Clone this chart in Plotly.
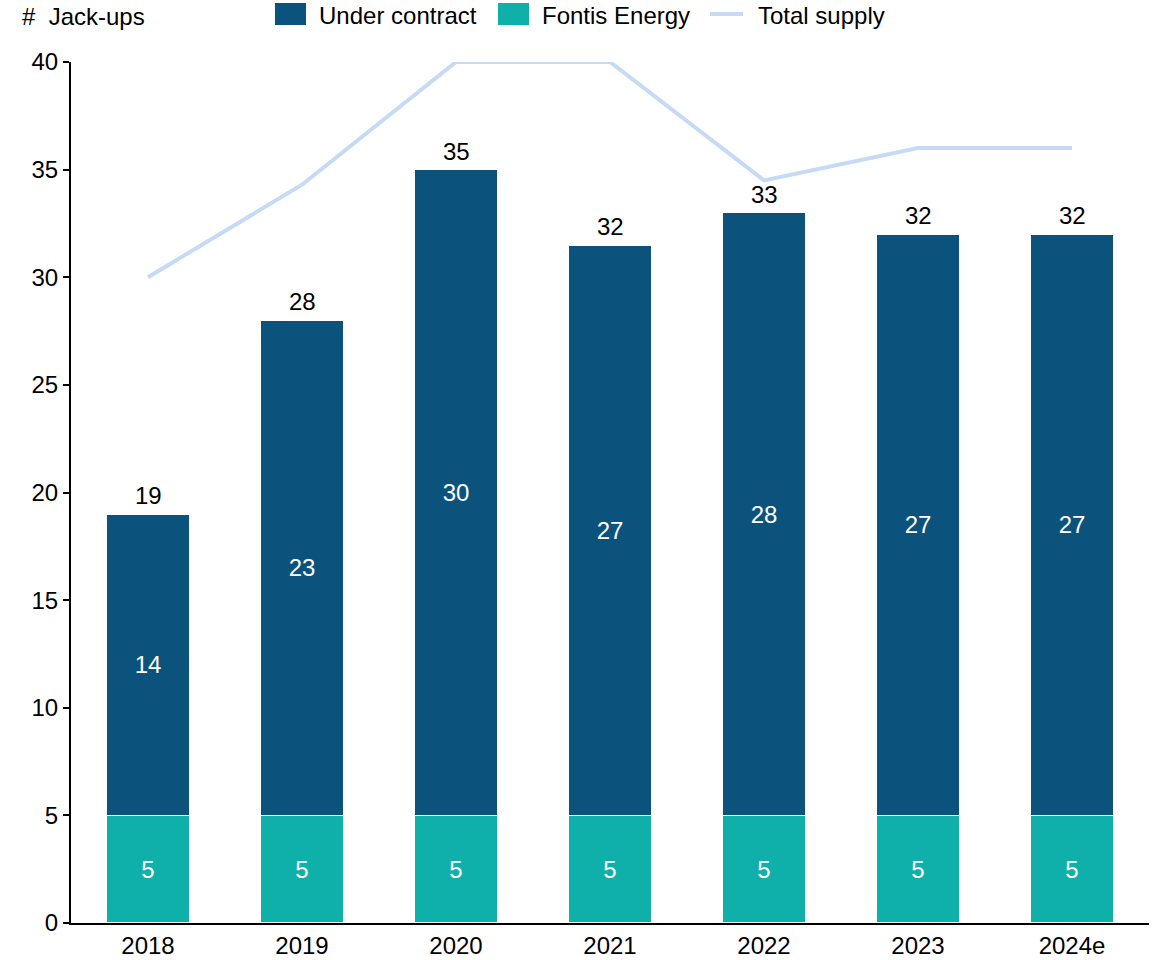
import plotly.graph_objects as go

years = ["2018", "2019", "2020", "2021", "2022", "2023", "2024e"]
fontis = [5, 5, 5, 5, 5, 5, 5]
under_contract = [14, 23, 30, 26.5, 28, 27, 27]
total_supply = [30, 34.3, 40, 40, 34.5, 36, 36]

C_UC = "#0B527C"
C_FE = "#0FB0A9"
C_TS = "#C6DAF6"
FONT = "Liberation Sans, Arial, sans-serif"
FS = 24

W, H = 1168, 960
# plot area in page pixels: x 71..1149, y 62..923
L, R, T, B = 71, 1168 - 1149, 62, 960 - 923
PW, PH = W - L - R, H - T - B


def px(x):
    return (x - L) / PW


def py(y):
    return (H - B - y) / PH


def rnd(v):
    return str(int(v + 0.5))


fig = go.Figure()
fig.add_trace(go.Bar(
    x=years, y=fontis, name="Fontis Energy", marker=dict(color=C_FE, line=dict(color="white", width=1.5)),
    text=[rnd(v) for v in fontis], textposition="inside", insidetextanchor="middle",
    textfont=dict(color="white", size=FS, family=FONT), showlegend=False, textangle=0,
))
fig.add_trace(go.Bar(
    x=years, y=under_contract, name="Under contract", marker=dict(color=C_UC, line=dict(color="white", width=1.5)),
    text=[rnd(v) for v in under_contract], textposition="inside", insidetextanchor="middle",
    textfont=dict(color="white", size=FS, family=FONT), showlegend=False, textangle=0,
))
fig.add_trace(go.Scatter(
    x=years, y=total_supply, name="Total supply", mode="lines",
    line=dict(color=C_TS, width=4), showlegend=False,
))

annotations = []
for i, (f, u) in enumerate(zip(fontis, under_contract)):
    tot = f + u
    annotations.append(dict(x=i, y=tot, xref="x", yref="y", text=rnd(tot), showarrow=False,
                            yanchor="bottom", yshift=3, font=dict(size=FS, color="black", family=FONT)))

annotations.append(dict(x=px(22), y=py(17), xref="paper", yref="paper", text="#  Jack-ups", showarrow=False,
                        xanchor="left", yanchor="middle", xshift=-2,
                        font=dict(size=FS, color="black", family=FONT)))

shapes = []
legend_items = [
    ("rect", 275, 306, C_UC, 319, "Under contract"),
    ("rect", 498, 529, C_FE, 542, "Fontis Energy"),
    ("line", 710, 743, C_TS, 758, "Total supply"),
]
for kind, x0, x1, col, tx, label in legend_items:
    if kind == "rect":
        shapes.append(dict(type="rect", xref="paper", yref="paper", x0=px(x0), x1=px(x1), y0=py(25), y1=py(3),
                           fillcolor=col, line=dict(width=0)))
    else:
        shapes.append(dict(type="line", xref="paper", yref="paper", x0=px(x0), x1=px(x1), y0=py(14), y1=py(14),
                           line=dict(color=col, width=4)))
    annotations.append(dict(x=px(tx), y=py(15), xref="paper", yref="paper", text=label, showarrow=False,
                            xanchor="left", yanchor="middle", xshift=-2,
                            font=dict(size=FS, color="black", family=FONT)))

fig.update_layout(
    width=W, height=H,
    margin=dict(l=L, r=R, t=T, b=B, autoexpand=False),
    paper_bgcolor="white", plot_bgcolor="white",
    barmode="stack", bargap=0.46,
    font=dict(family=FONT, size=FS, color="black"),
    showlegend=False,
    hovermode=False,
    annotations=annotations,
    shapes=shapes,
)
fig.update_xaxes(type="category", showline=True, linecolor="black", linewidth=2, ticks="", showgrid=False,
                 automargin=False, tickfont=dict(size=FS, color="black"))
fig.update_yaxes(range=[0, 40], dtick=5, showline=True, linecolor="black", linewidth=2, ticks="outside",
                 ticklen=6, tickwidth=2, tickcolor="black", showgrid=False, zeroline=False,
                 automargin=False, tickfont=dict(size=FS, color="black"))

fig.write_html("out.html", config={"displayModeBar": False},
               post_script="document.body.style.margin='0';document.body.style.overflow='hidden';")
